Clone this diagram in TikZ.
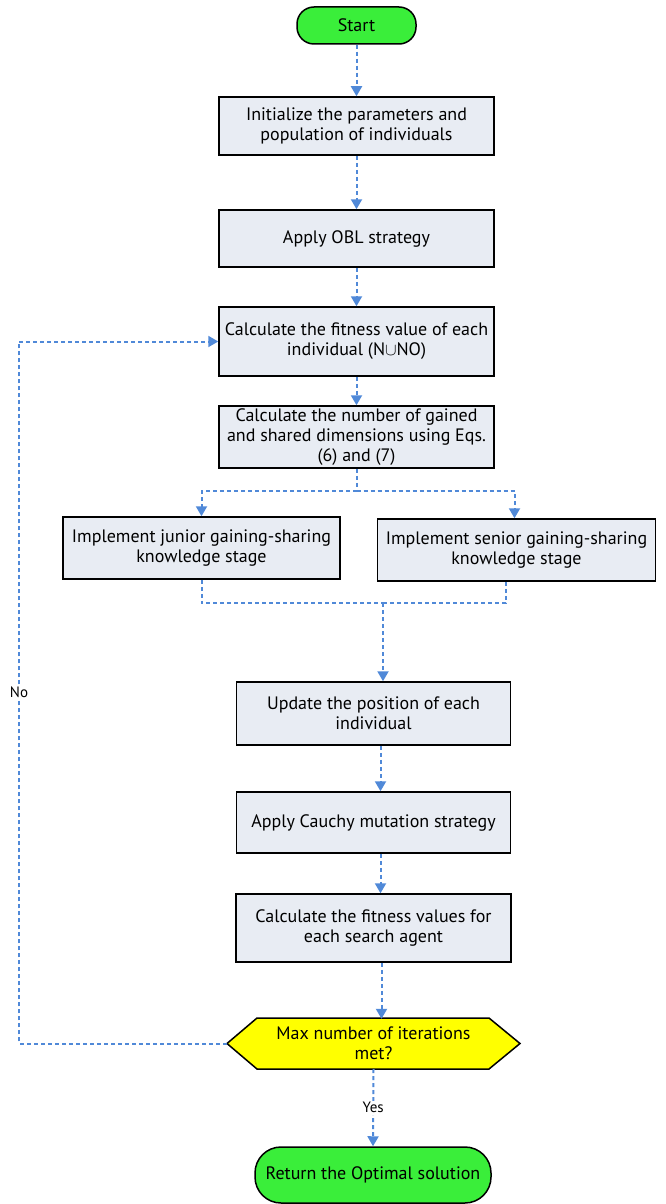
\documentclass[tikz,border=0pt]{standalone}
\usepackage{fontspec}
\setmainfont{PT Sans}
\usetikzlibrary{arrows.meta}
\definecolor{flow}{HTML}{5089D8}
\definecolor{boxfill}{HTML}{E8ECF3}
\definecolor{termgreen}{HTML}{3AEE3A}
\definecolor{decyellow}{HTML}{FFFF00}
\tikzset{
  txt/.style={font=\fontsize{18}{20}\selectfont},
  procbox/.style={txt, draw=black, line width=1.5pt, fill=boxfill, align=center, inner sep=0pt},
  term/.style={txt, draw=black, line width=1.5pt, fill=termgreen, rounded corners=17pt, align=center, inner sep=0pt},
  flowdash/.style={draw=flow, line width=2pt, dash pattern=on 4pt off 3pt},
  flowline/.style={flowdash, -{Triangle[width=11pt,length=10pt]}},
  lbl/.style={font=\fontsize{15}{18}\selectfont, fill=white, inner sep=1.5pt},
}
\begin{document}
\begin{tikzpicture}[x=1pt,y=-1pt]
\useasboundingbox (0,0) rectangle (666,1204);

\node[term, minimum width=119pt, minimum height=37pt] (start) at (356.5,25.5) {Start};
\node[procbox, minimum width=275pt, minimum height=58pt] (init) at (356.5,126) {Initialize the parameters and\\population of individuals};
\node[procbox, minimum width=275pt, minimum height=57pt] (obl) at (356.5,238.5) {Apply OBL strategy};
\node[procbox, minimum width=275pt, minimum height=69pt] (fit) at (356.5,341.5) {Calculate the fitness value of each\\individual (N$\cup$NO)};
\node[procbox, minimum width=275pt, minimum height=62pt] (dims) at (356.5,437) {Calculate the number of gained\\and shared dimensions using Eqs.\\(6) and (7)};
\node[procbox, minimum width=277pt, minimum height=62pt] (junior) at (201.5,548) {Implement junior gaining-sharing\\knowledge stage};
\node[procbox, minimum width=278pt, minimum height=62pt] (senior) at (516.5,550) {Implement senior gaining-sharing\\knowledge stage};
\node[procbox, minimum width=274pt, minimum height=63pt] (update) at (373.5,713.5) {Update the position of each\\individual};
\node[procbox, minimum width=274pt, minimum height=61pt] (cauchy) at (373.5,822.5) {Apply Cauchy mutation strategy};
\node[procbox, minimum width=275pt, minimum height=68pt] (fitval) at (373.5,928) {Calculate the fitness values for\\each search agent};

\filldraw[draw=black, line width=1.5pt, fill=decyellow]
  (227,1043.5) -- (257,1018) -- (489,1018) -- (520,1043.5) -- (489,1069) -- (257,1069) -- cycle;
\node[txt, align=center, minimum width=293pt, minimum height=51pt, inner sep=0pt] (dec) at (373.5,1043.5) {Max number of iterations\\met?};

\node[term, minimum width=236pt, minimum height=56pt, rounded corners=26pt] (ret) at (373,1175) {Return the Optimal solution};

\coordinate (split) at (356.5,491);
\coordinate (merge) at (383,603);
\coordinate (noturn) at (19,1043.5);
\coordinate (noback) at (19,341.5);

\draw[flowline] (start) -- (init);
\draw[flowline] (init) -- (obl);
\draw[flowline] (obl) -- (fit);
\draw[flowline] (fit) -- (dims);
\draw[flowdash] (dims) -- (split);
\draw[flowline] (split) -| (junior.north);
\draw[flowline] (split) -| ([xshift=-2pt]senior.north);
\draw[flowdash] (junior.south) |- (merge);
\draw[flowdash] ([xshift=-11pt]senior.south) |- (merge);
\draw[flowline] (merge) -- ([xshift=9.5pt]update.north);
\draw[flowline] ([xshift=7pt]update.south) -- ([xshift=7pt]cauchy.north);
\draw[flowline] ([xshift=7pt]cauchy.south) -- ([xshift=7pt]fitval.north);
\draw[flowline] ([xshift=8pt]fitval.south) -- ([xshift=8pt,yshift=-1pt]dec.north);
\draw[flowline] (dec.south) -- node[lbl, pos=0.5] (yes) {Yes} (ret.north);
\draw[flowline] (dec.west) -- (noturn) -- node[lbl, pos=0.5] (no) {No} (noback) -- (fit.west);
\end{tikzpicture}
\end{document}
